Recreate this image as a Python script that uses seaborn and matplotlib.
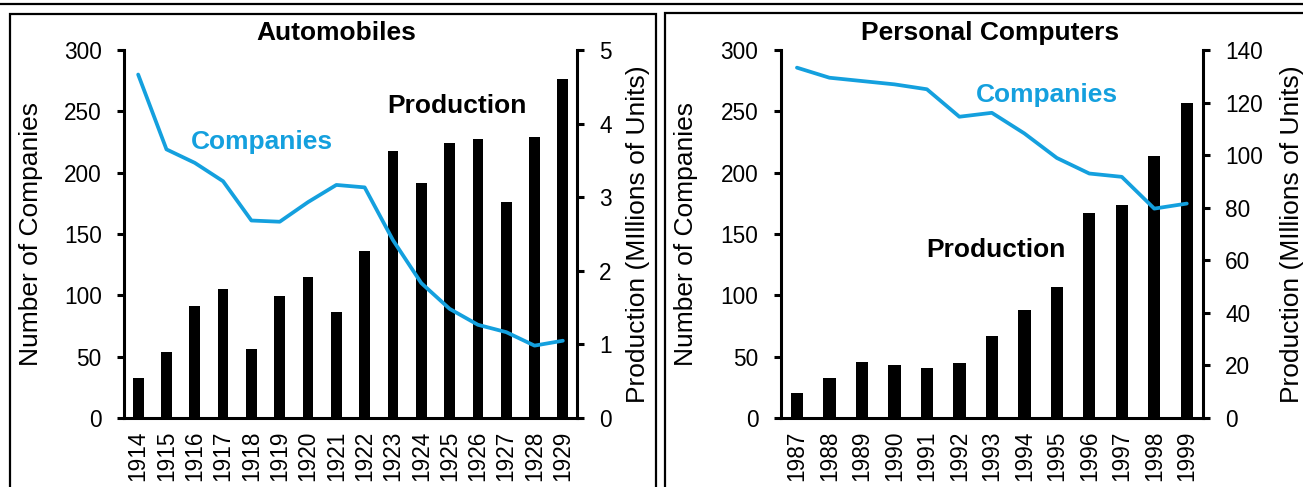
import matplotlib.pyplot as plt
import matplotlib.patches as mpatches
from matplotlib.lines import Line2D
import numpy as np
import seaborn as sns

# Automobiles (1914-1929)
auto_years = [str(y) for y in range(1914, 1930)]
auto_production = [0.54, 0.89, 1.52, 1.75, 0.94, 1.66, 1.91, 1.44, 2.27, 3.63,
                   3.19, 3.74, 3.79, 2.94, 3.82, 4.60]
auto_companies = [280, 219, 208, 193, 161, 160, 176, 190, 188, 145,
                  110, 89, 76, 70, 59, 63]

# Personal computers (1987-1999)
pc_years = [str(y) for y in range(1987, 2000)]
pc_production = [9.4, 15.1, 21.2, 20.1, 18.9, 21.0, 31.2, 40.9, 50.0, 78.0,
                 80.9, 99.7, 119.8]
pc_companies = [285.6, 277.4, 274.7, 272, 268, 245.6, 248.8, 232, 212, 199.3,
                196.6, 170.7, 174.8]

BLUE = "#14A0DE"
W, H = 1303, 487

sns.set_style("ticks", {"axes.edgecolor": "black", "text.color": "black",
                        "axes.labelcolor": "black", "xtick.color": "black",
                        "ytick.color": "black"})
plt.rcParams['font.family'] = ['Liberation Sans', 'DejaVu Sans']

fig = plt.figure(figsize=(W / 100, H / 100), dpi=100)


def panel(rect, years, companies, production, prod_max, prod_step, title,
          title_x, comp_xy, prod_xy, left_lab_x, right_lab_x):
    ax = fig.add_axes(rect)
    ax2 = ax.twinx()
    n = len(years)
    pos = np.arange(n)

    sns.barplot(x=years, y=production, ax=ax2, color="black", width=0.38,
                saturation=1, linewidth=0)
    sns.lineplot(x=pos, y=companies, ax=ax, color=BLUE, linewidth=2.7)

    # line on top of the bars
    ax.set_zorder(ax2.get_zorder() + 1)
    ax.patch.set_visible(False)

    ax.set_xlim(-0.5, n - 0.5)
    ax.set_ylim(0, 300)
    ax.set_yticks(range(0, 301, 50))
    ax2.set_ylim(0, prod_max)
    ax2.set_yticks(np.arange(0, prod_max + 0.001, prod_step))
    ax.set_xticks(pos)
    ax.set_xticklabels(years, rotation=90)

    for s in ["top", "right"]:
        ax.spines[s].set_visible(False)
    for s in ["top", "left", "bottom"]:
        ax2.spines[s].set_visible(False)
    for s in ["left", "bottom"]:
        ax.spines[s].set_linewidth(2.2)
    ax2.spines["right"].set_linewidth(2.2)

    ax.tick_params(axis="y", direction="out", length=5, width=2.2,
                   labelsize=16.3, pad=11, colors="black")
    ax.tick_params(axis="x", length=0, labelsize=16.3, pad=9, colors="black")
    ax2.tick_params(axis="y", direction="out", length=5, width=2.2,
                    labelsize=16.3, pad=11, colors="black")

    ax.set_xlabel("")
    ax2.set_xlabel("")
    ax.set_ylabel("Number of Companies", fontsize=19, color="black")
    ax.yaxis.set_label_coords(left_lab_x, 0.5)
    ax2.set_ylabel("Production (MIllions of Units)", fontsize=19,
                   color="black")
    ax2.yaxis.set_label_coords(right_lab_x, 0.5)

    ax.text(comp_xy[0], comp_xy[1], "Companies", color=BLUE, fontsize=19,
            fontweight="bold", ha="center", va="center")
    ax.text(prod_xy[0], prod_xy[1], "Production", color="black", fontsize=19,
            fontweight="bold", ha="center", va="center")
    fig.text(title_x, 1 - 33 / H, title, fontsize=19, fontweight="bold",
             ha="center", va="center", color="black")
    return ax, ax2


bottom = (H - 418) / H
height = 368 / H
panel([124 / W, bottom, 453 / W, height], auto_years, auto_companies,
      auto_production, 5, 1, "Automobiles", 336 / W,
      (4.37, 225), (11.26, 254), -0.179, 1.1092)
panel([780.7 / W, bottom, 422.3 / W, height], pc_years, pc_companies,
      pc_production, 140, 20, "Personal Computers", 990 / W,
      (7.7, 263), (6.13, 137), -0.1958, 1.1823)

# frame lines
fig.add_artist(Line2D([0, 1], [1 - 4 / H, 1 - 4 / H], color="black",
                      linewidth=1.6, transform=fig.transFigure))
fig.add_artist(mpatches.Rectangle((9.5 / W, -0.2), (656 - 9.5) / W,
                                  1.2 - 13.5 / H, fill=False,
                                  edgecolor="black", linewidth=1.6,
                                  transform=fig.transFigure))
fig.add_artist(mpatches.Rectangle((664.5 / W, -0.2), 0.6,
                                  1.2 - 12.5 / H, fill=False,
                                  edgecolor="black", linewidth=1.6,
                                  transform=fig.transFigure))

fig.savefig("out.png", dpi=100)
